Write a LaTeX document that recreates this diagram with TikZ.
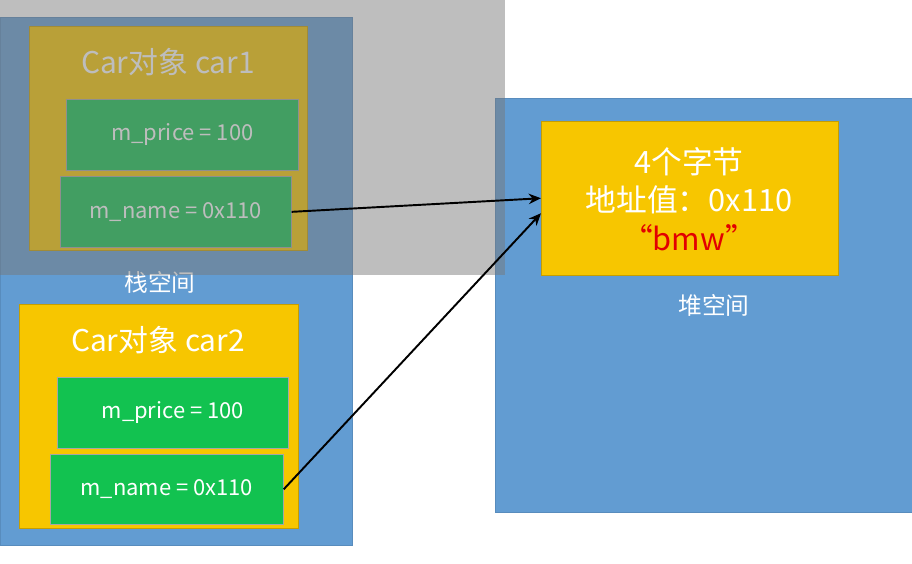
\documentclass[tikz,border=0pt]{standalone}
\usepackage{fontspec}
\setmainfont{Noto Sans CJK SC}
\usetikzlibrary{arrows.meta,positioning,calc}
\definecolor{spaceblue}{RGB}{98,156,210}
\definecolor{objyellow}{RGB}{247,198,0}
\definecolor{fieldgreen}{RGB}{18,194,80}
\definecolor{strred}{RGB}{226,0,0}
\definecolor{shadegray}{RGB}{119,119,119}

\begin{document}
\begin{tikzpicture}[x=0.02cm,y=-0.02cm,
    space/.style={fill=spaceblue, draw=spaceblue!90!black, line width=0.3pt, anchor=north west, inner sep=0pt},
    objbox/.style={fill=objyellow, draw=objyellow!80!black, line width=0.3pt, anchor=north west, inner sep=0pt},
    field/.style={fill=fieldgreen, draw=gray!70, line width=0.4pt, anchor=north west, inner sep=0pt,
        text=white, font=\fontsize{12.5}{15}\selectfont},
    title/.style={text=white, font=\fontsize{17}{20}\selectfont},
    spacelabel/.style={text=white, font=\fontsize{13.5}{16}\selectfont},
    ptr/.style={-{Stealth[length=7pt,width=6pt]}, line width=1.1pt, black}]
    \useasboundingbox (0,0) rectangle (912,564);

    % Draw the two memory areas
    \node[space, minimum width=7.04cm, minimum height=10.56cm] (stack) at (0,17) {};
    \node[space, minimum width=8.34cm, minimum height=8.28cm] (heap) at (495,98) {};

    % Car objects on the stack
    \node[objbox, minimum width=5.56cm, minimum height=4.48cm] (car1) at (29,26) {};
    \node[title] (t1) at (168,62) {Car对象 car1};
    \node[field, minimum width=4.64cm, minimum height=1.42cm] (p1) at (66,99) {m\_price = 100};
    \node[field, minimum width=4.62cm, minimum height=1.42cm] (n1) at (60,176) {m\_name = 0x110};

    \node[objbox, minimum width=5.58cm, minimum height=4.48cm] (car2) at (19,304) {};
    \node[title] (t2) at (158,340) {Car对象 car2};
    \node[field, minimum width=4.62cm, minimum height=1.42cm] (p2) at (57,377) {m\_price = 100};
    \node[field, minimum width=4.66cm, minimum height=1.40cm] (n2) at (50,454) {m\_name = 0x110};

    \node[spacelabel] (stacklabel) at (160,282) {栈空间};

    % String on the heap
    \node[objbox, minimum width=5.94cm, minimum height=3.08cm] (str) at (541,121) {};
    \node[text=white, align=center, font=\fontsize{17.5}{22}\selectfont] (strtext) at (689,199)
        {4个字节\\地址值：0x110\\\textcolor{strred}{“bmw”}};
    \node[spacelabel] (heaplabel) at (714,305) {堆空间};

    % Gray shade over the top left
    \fill[shadegray, opacity=0.48] (0,0) rectangle (505,275);

    % Pointers
    \draw[ptr] (n1.east) -- (str.west);
    \draw[ptr] (n2.east) -- ($(str.west)+(0,15)$);
\end{tikzpicture}
\end{document}
